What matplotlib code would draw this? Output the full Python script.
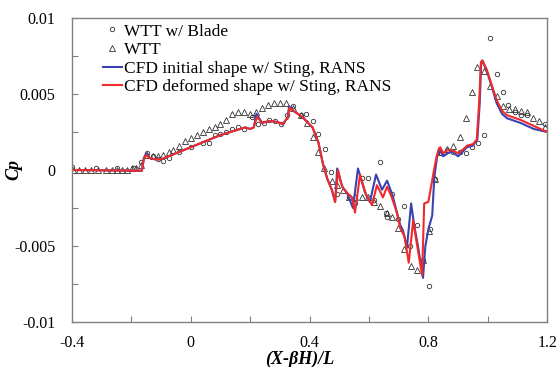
import numpy as np
import matplotlib
matplotlib.use("Agg")
import matplotlib.pyplot as plt
from matplotlib.ticker import FixedLocator

# WTT w/ Blade (circles)
blade_x = [-0.40, -0.32, -0.25, -0.19, -0.168, -0.148, -0.127, -0.11, -0.093, -0.074,
           -0.04, 0.0, 0.04, 0.06, 0.08, 0.10, 0.12, 0.14, 0.16, 0.18, 0.205, 0.225,
           0.245, 0.265, 0.285, 0.305, 0.325, 0.345, 0.37, 0.388, 0.41, 0.43, 0.452,
           0.472, 0.493, 0.533, 0.553, 0.577, 0.597, 0.617, 0.637, 0.657, 0.66, 0.678,
           0.698, 0.718, 0.738, 0.762, 0.782, 0.802, 0.805, 0.822, 0.842, 0.863, 0.883,
           0.907, 0.927, 0.947, 0.967, 0.987, 1.008, 1.031, 1.051, 1.068, 1.092, 1.112,
           1.132, 1.193]
blade_cp = [0.0002, 0.0001, 0.0001, 0.0001, 0.0005, 0.0011, 0.0009, 0.0007, 0.0006, 0.0008,
            0.0012, 0.0015, 0.0018, 0.0018, 0.0023, 0.0024, 0.0025, 0.0027, 0.0028, 0.0027,
            0.0035, 0.0030, 0.0031, 0.0033, 0.0032, 0.0030, 0.0036, 0.0042, 0.0036, 0.0037,
            0.0032, 0.0024, 0.0014, -0.0001, -0.0016, -0.0018, -0.0022, -0.0005, -0.0005,
            -0.0020, 0.0005, -0.0028, -0.0031, -0.0016, -0.0032, -0.0024, -0.0050, -0.0036,
            -0.0059, -0.0076, -0.0039, -0.0006, 0.0011, 0.0013, 0.0012, 0.0012, 0.0011,
            0.0015, 0.0018, 0.0023, 0.0087, 0.0063, 0.0051, 0.0043, 0.0038, 0.0036, 0.0036,
            0.0030]

# WTT (triangles)
wtt_x = [-0.397, -0.377, -0.355, -0.335, -0.312, -0.285, -0.265, -0.248, -0.231, -0.214,
         -0.197, -0.184, -0.168, -0.148, -0.127, -0.11, -0.093, -0.074, -0.059, -0.04,
         -0.02, 0.0, 0.02, 0.04, 0.06, 0.08, 0.10, 0.12, 0.14, 0.16, 0.18, 0.20, 0.22,
         0.24, 0.26, 0.28, 0.30, 0.32, 0.345, 0.37, 0.39, 0.41, 0.43, 0.45, 0.475, 0.493,
         0.513, 0.533, 0.553, 0.577, 0.597, 0.617, 0.637, 0.66, 0.678, 0.698, 0.718,
         0.741, 0.762, 0.782, 0.802, 0.822, 0.842, 0.863, 0.883, 0.907, 0.927, 0.947,
         0.964, 0.987, 1.008, 1.031, 1.051, 1.07, 1.092, 1.112, 1.132, 1.153, 1.173, 1.193]
wtt_cp = [0.0, 0.0, 0.0, 0.0, 0.0, 0.0, 0.0, 0.0, 0.0, 0.0,
          0.0001, 0.0001, 0.0003, 0.0010, 0.0009, 0.0009, 0.0010, 0.0012, 0.0013, 0.0016,
          0.0019, 0.0021, 0.0023, 0.0025, 0.0027, 0.0028, 0.0030, 0.0033, 0.0037, 0.0038,
          0.0038, 0.0037, 0.0038, 0.0041, 0.0043, 0.0044, 0.0044, 0.0044, 0.0041, 0.0036,
          0.0031, 0.0022, 0.0012, 0.0001, -0.0007, -0.0010, -0.0013, -0.0018, -0.0018,
          -0.0018, -0.0018, -0.0021, -0.0024, -0.0028, -0.0031, -0.0038, -0.0052, -0.0063,
          -0.0066, -0.0059, -0.0040, -0.0006, 0.0012, 0.0014, 0.0016, 0.0022, 0.0034,
          0.0051, 0.0068, 0.0065, 0.0055, 0.0049, 0.0042, 0.0040, 0.0040, 0.0039, 0.0038,
          0.0034, 0.0032, 0.0028]

# CFD initial shape (blue)
init_x = [-0.40, -0.165, -0.158, -0.15, -0.14, -0.12, -0.10, -0.05, 0.0, 0.05, 0.10,
          0.15, 0.183, 0.20, 0.212, 0.221, 0.24, 0.26, 0.28, 0.30, 0.31, 0.32, 0.326,
          0.331, 0.345, 0.36, 0.38, 0.395, 0.41, 0.42, 0.43, 0.445, 0.46, 0.475, 0.486,
          0.493, 0.51, 0.526, 0.546, 0.563, 0.587, 0.603, 0.624, 0.644, 0.661, 0.68,
          0.694, 0.705, 0.715, 0.728, 0.742, 0.752, 0.765, 0.782, 0.79, 0.80, 0.813,
          0.82, 0.829, 0.836, 0.85, 0.865, 0.88, 0.90, 0.92, 0.93, 0.95, 0.965, 0.973,
          0.978, 0.982, 0.997, 1.015, 1.03, 1.048, 1.065, 1.11, 1.155, 1.20]
init_cp = [0.0, -0.00005, 0.0008, 0.0011, 0.0008, 0.0007, 0.0007, 0.0011, 0.0015, 0.0019,
           0.0023, 0.0026, 0.0028, 0.0027, 0.0028, 0.0037, 0.0031, 0.0032, 0.0032, 0.0031,
           0.0030, 0.0033, 0.0034, 0.0042, 0.0039, 0.0037, 0.0034, 0.0031, 0.0028, 0.0023,
           0.0018, 0.0004, -0.0006, -0.0013, -0.0021, 0.0001, -0.0011, -0.0015, -0.0025,
           0.0001, -0.0015, -0.0021, -0.0003, -0.0013, -0.0007, -0.0017, -0.0028, -0.0036,
           -0.0040, -0.0051, -0.0022, -0.0036, -0.0050, -0.0071, -0.0050, -0.0039, -0.0030,
           -0.0005, 0.0008, 0.0014, 0.0009, 0.0011, 0.0012, 0.0009, 0.0013, 0.0015, 0.0016,
           0.0020, 0.0044, 0.0070, 0.0072, 0.0065, 0.0054, 0.0044, 0.0037, 0.0034, 0.0031,
           0.0027, 0.0025]

# CFD deformed shape (red)
def_x = [-0.40, -0.165, -0.158, -0.15, -0.14, -0.12, -0.10, -0.05, 0.0, 0.05, 0.10,
         0.15, 0.183, 0.20, 0.212, 0.223, 0.24, 0.26, 0.28, 0.30, 0.31, 0.32, 0.326,
         0.332, 0.345, 0.36, 0.38, 0.395, 0.41, 0.42, 0.43, 0.445, 0.46, 0.475, 0.486,
         0.496, 0.505, 0.513, 0.526, 0.543, 0.553, 0.57, 0.58, 0.59, 0.61, 0.627, 0.647,
         0.661, 0.675, 0.694, 0.705, 0.72, 0.734, 0.749, 0.76, 0.772, 0.779, 0.786,
         0.80, 0.81, 0.82, 0.829, 0.836, 0.84, 0.85, 0.865, 0.88, 0.90, 0.92, 0.93,
         0.95, 0.963, 0.971, 0.977, 0.982, 0.997, 1.015, 1.03, 1.048, 1.065, 1.11,
         1.155, 1.20]
def_cp = [0.0, -0.00005, 0.0007, 0.0010, 0.0008, 0.0007, 0.0007, 0.0011, 0.0015, 0.0019,
          0.0023, 0.0026, 0.0028, 0.0027, 0.0028, 0.0035, 0.0031, 0.0032, 0.0032, 0.0031,
          0.0030, 0.0033, 0.0034, 0.0041, 0.0039, 0.0037, 0.0034, 0.0031, 0.0028, 0.0023,
          0.0018, 0.0004, -0.0006, -0.0013, -0.0021, 0.0000, -0.0008, -0.0012, -0.0015,
          -0.0018, -0.0028, -0.0003, -0.0010, -0.0016, -0.0023, -0.0010, -0.0018, -0.0011,
          -0.0017, -0.0028, -0.0038, -0.0044, -0.0061, -0.0033, -0.0047, -0.0061, -0.0069,
          -0.0022, -0.0021, -0.0010, 0.0001, 0.0010, 0.0014, 0.0015, 0.0011, 0.0013,
          0.0013, 0.0011, 0.0014, 0.0016, 0.0017, 0.0020, 0.0044, 0.0071, 0.0072, 0.0066,
          0.0055, 0.0046, 0.0039, 0.0036, 0.0033, 0.0029, 0.0025]

x_ticks = [-0.4, 0, 0.4, 0.8, 1.2]
x_tick_labels = ['-0.4', '0', '0.4', '0.8', '1.2']
y_ticks = [-0.01, -0.005, 0, 0.005, 0.01]
y_tick_labels = ['-0.01', '-0.005', '0', '0.005', '0.01']

plt.rcParams['font.family'] = ['Liberation Serif', 'DejaVu Serif']

fig = plt.figure(figsize=(5.6, 3.67), dpi=100)
ax = fig.add_axes([0.1286, 0.1226, 0.977 - 0.1286, 0.951 - 0.1226])

# markers first, CFD lines on top
ax.plot(blade_x, blade_cp, linestyle='none', marker='o', markersize=3.2,
        markerfacecolor='none', markeredgecolor='#333333', markeredgewidth=0.6,
        label='WTT w/ Blade')
ax.plot(wtt_x, wtt_cp, linestyle='none', marker='^', markersize=4.2,
        markerfacecolor='none', markeredgecolor='#333333', markeredgewidth=0.6,
        label='WTT')
ax.plot(init_x, init_cp, color='#3a42b0', linewidth=1.5,
        label='CFD initial shape w/ Sting, RANS')
ax.plot(def_x, def_cp, color='#f02a2a', linewidth=1.5,
        label='CFD deformed shape w/ Sting, RANS')

# axes look
ax.set_xlim(-0.4, 1.2)
ax.set_ylim(-0.01, 0.01)
ax.xaxis.set_major_locator(FixedLocator(x_ticks))
ax.xaxis.set_minor_locator(FixedLocator([-0.2, 0.2, 0.6, 1.0]))
ax.set_xticklabels(x_tick_labels)
ax.yaxis.set_major_locator(FixedLocator(y_ticks))
ax.yaxis.set_minor_locator(FixedLocator([-0.0075, -0.0025, 0.0025, 0.0075]))
ax.set_yticklabels(y_tick_labels)
ax.tick_params(which='both', direction='in', length=4, width=0.8, color='#808080',
               labelsize=11.5)
ax.tick_params(axis='x', which='both', pad=9)
ax.tick_params(axis='y', which='both', pad=12)
for s in ax.spines.values():
    s.set_color('#808080')
    s.set_linewidth(1.0)

ax.set_xlabel('(X-βH)/L', fontsize=13, fontweight='bold', fontstyle='italic')
ax.xaxis.set_label_coords(0.48, -0.094)
ax.set_ylabel('Cp', fontsize=13, fontweight='bold', fontstyle='italic')
ax.yaxis.set_label_coords(-0.105, 0.5)

ax.legend(loc='upper left', bbox_to_anchor=(0.05, 1.005), frameon=False, fontsize=12.5,
          handlelength=1.1, handletextpad=0.1, labelspacing=0.14, borderaxespad=0)

fig.savefig('out.png', dpi=100)
